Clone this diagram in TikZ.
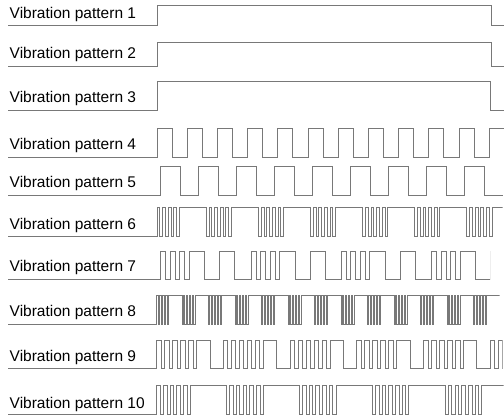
\documentclass[tikz,border=0pt]{standalone}
\usepackage{fontspec}
\setmainfont{Liberation Sans}
\definecolor{wavegray}{RGB}{120,120,120}
\begin{document}
\begin{tikzpicture}[x=1pt,y=-1pt,
  wave/.style={draw=wavegray, line width=0.85pt, line join=miter},
  lab/.style={anchor=base west, inner sep=0pt, font=\fontsize{15.5}{18}\selectfont, text=black}]
\useasboundingbox (0,0) rectangle (504,416);
\fill[white] (0,0) rectangle (504,416);

% labels
\node[lab] (p1) at (9.5,18.5) {Vibration pattern 1};
\node[lab] (p2) at (9.5,58.5) {Vibration pattern 2};
\node[lab] (p3) at (9.5,102) {Vibration pattern 3};
\node[lab] (p4) at (9.5,149.5) {Vibration pattern 4};
\node[lab] (p5) at (9.5,187.5) {Vibration pattern 5};
\node[lab] (p6) at (9.5,229) {Vibration pattern 6};
\node[lab] (p7) at (9.5,271.5) {Vibration pattern 7};
\node[lab] (p8) at (9.5,316.5) {Vibration pattern 8};
\node[lab] (p9) at (9.5,361.5) {Vibration pattern 9};
\node[lab] (p10) at (9.5,408.5) {Vibration pattern 10};

% rows 1-3
\draw[wave] (8,25) -- (157,25) -- (157,5) -- (491,5) -- (491,25) -- (504,25);
\draw[wave] (8,66.7) -- (157,66.7) -- (157,42.3) -- (491,42.3) -- (491,66.7) -- (504,66.7);
\draw[wave] (8,110) -- (157,110) -- (157,81.3) -- (490.5,81.3) -- (490.5,110) -- (504,110);

% row 4
\begin{scope}
\clip (0,120) rectangle (504,165);
\draw[wave] (8,157) -- (157,157)
  \foreach \k [evaluate=\k as \bx using 157+30.2*\k] in {0,...,11}
  { -- (\bx,157) -- (\bx,128) -- ({\bx+15},128) -- ({\bx+15},157) };
\end{scope}

% row 5
\draw[wave] (8,195) -- (160,195)
  \foreach \k [evaluate=\k as \bx using 160+38.05*\k] in {0,...,8}
  { -- (\bx,195) -- (\bx,166.7) -- ({\bx+20},166.7) -- ({\bx+20},195) }
  -- (502.7,195);

% row 6
\begin{scope}
\clip (0,200) rectangle (502.5,245);
\draw[wave] (8,236.7) -- (157,236.7)
  \foreach \k [evaluate=\k as \bx using 157+52.1*\k] in {0,...,6}
  { \foreach \j in {0,...,3}
      { -- ({\bx+5.6*\j},236.7) -- ({\bx+5.6*\j},207.7) -- ({\bx+5.6*\j+2.8},207.7) -- ({\bx+5.6*\j+2.8},236.7) }
    -- ({\bx+22.4},236.7) -- ({\bx+22.4},207.7) -- ({\bx+49.3},207.7) -- ({\bx+49.3},236.7) };
\end{scope}

% row 7
\begin{scope}
\clip (0,245) rectangle (490,285);
\draw[wave] (8,279) -- (160.7,279)
  \foreach \k [evaluate=\k as \bx using 160.7+90.3*\k] in {0,...,3}
  { \foreach \j in {0,1,2}
      { -- ({\bx+9.5*\j},279) -- ({\bx+9.5*\j},251.7) -- ({\bx+9.5*\j+5},251.7) -- ({\bx+9.5*\j+5},279) }
    -- ({\bx+28.5},279) -- ({\bx+28.5},251.7) -- ({\bx+44},251.7) -- ({\bx+44},279)
    -- ({\bx+59},279) -- ({\bx+59},251.7) -- ({\bx+74},251.7) -- ({\bx+74},279) };
\end{scope}

% row 8
\begin{scope}
\clip (0,288) rectangle (499.5,330);
\draw[wave] (8,324.3) -- (156.7,324.3)
  \foreach \k [evaluate=\k as \bx using 156.7+26.5*\k] in {0,...,12}
  { \foreach \j in {0,...,3}
      { -- ({\bx+3*\j},324.3) -- ({\bx+3*\j},295) -- ({\bx+3*\j+1.5},295) -- ({\bx+3*\j+1.5},324.3) }
    -- ({\bx+12},324.3) -- ({\bx+12},295) -- ({\bx+25.3},295) -- ({\bx+25.3},324.3) };
\end{scope}

% row 9
\begin{scope}
\clip (0,333) rectangle (502.5,375);
\draw[wave] (8,368.3) -- (156.7,368.3)
  \foreach \k [evaluate=\k as \bx using 156.7+66.7*\k] in {0,...,5}
  { \foreach \j in {0,...,4}
      { -- ({\bx+8*\j},368.3) -- ({\bx+8*\j},340) -- ({\bx+8*\j+4.5},340) -- ({\bx+8*\j+4.5},368.3) }
    -- ({\bx+40},368.3) -- ({\bx+40},340) -- ({\bx+53.3},340) -- ({\bx+53.3},368.3) };
\end{scope}

% row 10
\begin{scope}
\clip (0,378) rectangle (503.5,416);
\draw[wave] (8,414.3) -- (156.7,414.3)
  \foreach \k [evaluate=\k as \bx using 156.7+72.9*\k] in {0,...,4}
  { \foreach \j in {0,...,4}
      { -- ({\bx+6.7*\j},414.3) -- ({\bx+6.7*\j},385) -- ({\bx+6.7*\j+3.6},385) -- ({\bx+6.7*\j+3.6},414.3) }
    -- ({\bx+33.5},414.3) -- ({\bx+33.5},385) -- ({\bx+69.9},385) -- ({\bx+69.9},414.3) };
\end{scope}
\end{tikzpicture}
\end{document}
